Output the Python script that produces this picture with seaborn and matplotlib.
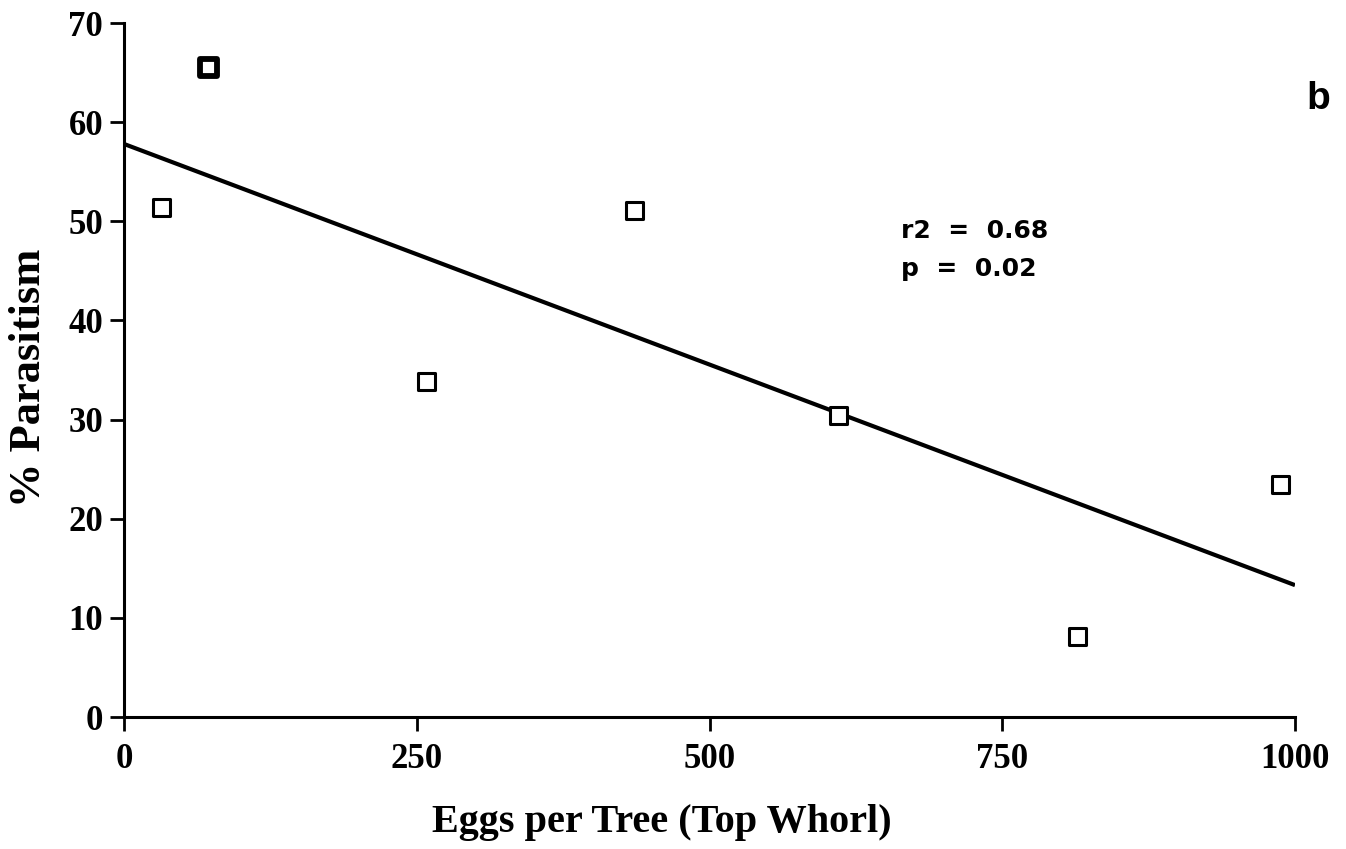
import matplotlib
matplotlib.use("Agg")
import matplotlib.pyplot as plt
import seaborn as sns
import pandas as pd

# ---- data ----
eggs_per_tree = [32, 72, 258, 436, 610, 814, 988]
pct_parasitism = [51.4, 65.5, 33.8, 51.1, 30.4, 8.1, 23.5]
marker_edge = [2.2, 4.2, 2.2, 2.2, 2.2, 2.2, 2.2]

fit_x = [0, 1000]
fit_y = [57.8, 13.3]

x_ticks = [0, 250, 500, 750, 1000]
y_ticks = [0, 10, 20, 30, 40, 50, 60, 70]

x_label = "Eggs per Tree (Top Whorl)"
y_label = "% Parasitism"
panel_label = "b"
stat_lines = ["r2  =  0.68", "p  =  0.02"]

# ---- style ----
sns.set_style("ticks")
plt.rcParams["font.family"] = ["Liberation Serif", "DejaVu Serif"]
plt.rcParams["font.weight"] = "bold"

fig = plt.figure(figsize=(13.46, 8.49), dpi=100)
ax = fig.add_axes([124 / 1346, 1 - 717 / 849, (1295 - 124) / 1346, (717 - 23) / 849])

pts = pd.DataFrame({"eggs": eggs_per_tree, "par": pct_parasitism})
fit = pd.DataFrame({"x": fit_x, "y": fit_y})

sns.lineplot(data=fit, x="x", y="y", ax=ax, color="black", linewidth=3.0,
             solid_capstyle="butt")
sns.scatterplot(data=pts, x="eggs", y="par", ax=ax, marker="s", s=150,
                facecolor="white", edgecolor="black", linewidth=marker_edge,
                clip_on=False, zorder=5)

ax.set_xlim(0, 1000)
ax.set_ylim(0, 70)
ax.set_xticks(x_ticks)
ax.set_yticks(y_ticks)
ax.set_xticklabels([str(t) for t in x_ticks])
ax.set_yticklabels([str(t) for t in y_ticks])

for s in ["top", "right"]:
    ax.spines[s].set_visible(False)
for s in ["left", "bottom"]:
    ax.spines[s].set_linewidth(2.2)
    ax.spines[s].set_color("black")

ax.tick_params(axis="both", direction="out", length=10, width=2.0, color="black",
               labelsize=25, labelcolor="black")
ax.tick_params(axis="x", pad=9)
ax.tick_params(axis="y", pad=5)
for lab in ax.get_xticklabels() + ax.get_yticklabels():
    lab.set_fontweight("bold")

ax.set_xlabel(x_label, fontsize=29, fontweight="bold", color="black")
ax.set_ylabel(y_label, fontsize=32, fontweight="bold", color="black")
ax.xaxis.label.set_va("baseline")
ax.xaxis.set_label_coords((662 - 124) / 1171, (717 - 832) / 694)
ax.yaxis.label.set_va("center")
ax.yaxis.set_label_coords((29 - 124) / 1171, (717 - 378) / 694)

fig.text(1306 / 1346, 1 - 109 / 849, panel_label, fontsize=28, fontweight="bold",
         family=["Liberation Sans", "DejaVu Sans"], ha="left", va="baseline",
         color="black")
stat_font = ["DejaVu Sans"]
fig.text(901 / 1346, 1 - 238 / 849, stat_lines[0], fontsize=18, fontweight="bold",
         family=stat_font, ha="left", va="baseline", color="black")
fig.text(901 / 1346, 1 - 276 / 849, stat_lines[1], fontsize=18, fontweight="bold",
         family=stat_font, ha="left", va="baseline", color="black")

fig.savefig("out.png", dpi=100, facecolor="white")
